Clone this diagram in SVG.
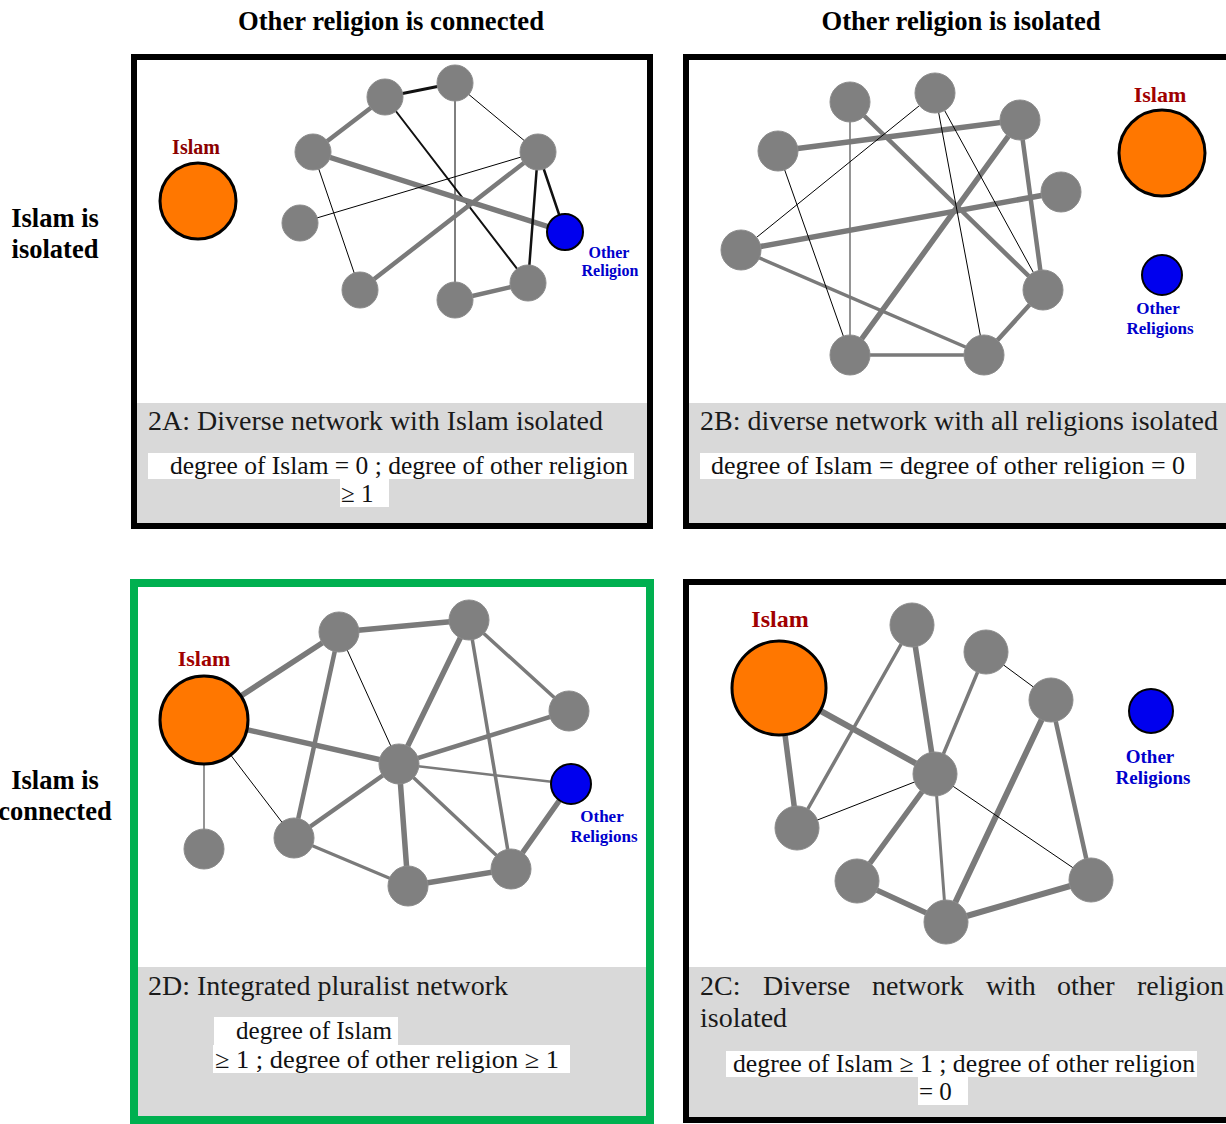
<svg xmlns="http://www.w3.org/2000/svg" width="1226" height="1124" viewBox="0 0 1226 1124">
<style>
.hdr{font-family:"Liberation Serif",serif;font-weight:bold;font-size:26.5px;fill:#000}
.cap{font-family:"Liberation Serif",serif;font-size:28px;fill:#1a1a1a}
.frm{font-family:"Liberation Serif",serif;font-size:25px;fill:#111}
.isl{font-family:"Liberation Serif",serif;font-weight:bold;fill:#A00000;text-anchor:middle}
.oth{font-family:"Liberation Serif",serif;font-weight:bold;fill:#0000CC;text-anchor:middle}
.node{fill:#808080;stroke:#8c8c8c;stroke-width:1}
.islam{fill:#FF7700;stroke:#000;stroke-width:3}
.other{fill:#0000EE;stroke:#000;stroke-width:2}
.g5{stroke:#7a7a7a;stroke-width:5.5}
.g4{stroke:#7a7a7a;stroke-width:4.5}
.g3{stroke:#7a7a7a;stroke-width:3.5}
.g1{stroke:#7a7a7a;stroke-width:1.6}
.k1{stroke:#000;stroke-width:1}
.k2{stroke:#111;stroke-width:2.5}
.box{fill:#fff}
.gray{fill:#d9d9d9}
</style>
<rect width="1226" height="1124" fill="#fff"/>

<!-- headers -->
<text class="hdr" x="391" y="30" text-anchor="middle" textLength="306" lengthAdjust="spacingAndGlyphs">Other religion is connected</text>
<text class="hdr" x="961" y="30" text-anchor="middle" textLength="279" lengthAdjust="spacingAndGlyphs">Other religion is isolated</text>
<text class="hdr" x="55" y="227" text-anchor="middle">Islam is</text>
<text class="hdr" x="55" y="258" text-anchor="middle">isolated</text>
<text class="hdr" x="55" y="789" text-anchor="middle">Islam is</text>
<text class="hdr" x="55" y="820" text-anchor="middle">connected</text>

<!-- panel frames -->
<g id="panel-2A">
<rect x="134" y="57" width="516" height="469" fill="#fff" stroke="#000" stroke-width="6"/>
<rect class="gray" x="137" y="403" width="510" height="120"/>
<text class="cap" x="148" y="430" textLength="455" lengthAdjust="spacingAndGlyphs">2A: Diverse network with Islam isolated</text>
<rect class="box" x="148" y="453" width="486" height="26"/>
<rect class="box" x="340" y="479" width="49" height="28"/>
<text class="frm" x="170" y="474" textLength="458" lengthAdjust="spacingAndGlyphs">degree of Islam = 0 ; degree of other religion</text>
<text class="frm" x="341" y="502">≥ 1</text>
</g>
<g id="panel-2B">
<rect x="686" y="57" width="560" height="469" fill="#fff" stroke="#000" stroke-width="6"/>
<rect class="gray" x="689" y="403" width="537" height="120"/>
<text class="cap" x="700" y="430" textLength="518" lengthAdjust="spacingAndGlyphs">2B: diverse network with all religions isolated</text>
<rect class="box" x="700" y="453" width="496" height="26"/>
<text class="frm" x="711" y="474" textLength="474" lengthAdjust="spacingAndGlyphs">degree of Islam = degree of other religion = 0</text>
</g>
<g id="panel-2D">
<rect x="134" y="583" width="516" height="537" fill="#fff" stroke="#00B050" stroke-width="8"/>
<rect class="gray" x="138" y="967" width="508" height="149"/>
<text class="cap" x="148" y="995" textLength="360" lengthAdjust="spacingAndGlyphs">2D: Integrated pluralist network</text>
<rect class="box" x="214" y="1017" width="184" height="28"/>
<rect class="box" x="213" y="1045" width="357" height="28"/>
<text class="frm" x="236" y="1039" textLength="156" lengthAdjust="spacingAndGlyphs">degree of Islam</text>
<text class="frm" x="215" y="1068" textLength="344" lengthAdjust="spacingAndGlyphs">≥ 1 ; degree of other religion  ≥ 1</text>
</g>
<g id="panel-2C">
<rect x="686" y="582" width="560" height="538" fill="#fff" stroke="#000" stroke-width="6"/>
<rect class="gray" x="689" y="967" width="537" height="150"/>
<text class="cap" y="995"><tspan x="700">2C:</tspan><tspan x="763">Diverse</tspan><tspan x="872">network</tspan><tspan x="986">with</tspan><tspan x="1057">other</tspan><tspan x="1137">religion</tspan></text>
<text class="cap" x="700" y="1027">isolated</text>
<rect class="box" x="726" y="1051" width="471" height="26"/>
<rect class="box" x="918" y="1077" width="50" height="28"/>
<text class="frm" x="733" y="1072" textLength="462" lengthAdjust="spacingAndGlyphs">degree of Islam  ≥ 1 ; degree of other religion</text>
<text class="frm" x="919" y="1100">= 0</text>
</g>

<!-- connectors -->
<g id="connectors" fill="none" stroke-linecap="round">
<!-- 2A -->
<line class="k2" x1="385" y1="97" x2="455" y2="83" style="stroke-width:3"/>
<line class="g4" x1="385" y1="97" x2="313" y2="152"/>
<line class="k2" x1="385" y1="97" x2="528" y2="283" style="stroke-width:2"/>
<line class="k1" x1="455" y1="83" x2="455" y2="300"/>
<line class="k1" x1="455" y1="83" x2="538" y2="152"/>
<line class="g5" x1="313" y1="152" x2="565" y2="232"/>
<line class="k1" x1="313" y1="152" x2="360" y2="290"/>
<line class="k1" x1="300" y1="223" x2="538" y2="152"/>
<line class="g4" x1="360" y1="290" x2="538" y2="152"/>
<line class="k2" x1="538" y1="152" x2="528" y2="283"/>
<line class="k2" x1="538" y1="152" x2="565" y2="232"/>
<line class="g4" x1="455" y1="300" x2="528" y2="283"/>
<!-- 2B -->
<line class="g5" x1="778" y1="151" x2="1020" y2="120"/>
<line class="g5" x1="741" y1="250" x2="1061" y2="192"/>
<line class="g4" x1="850" y1="102" x2="1043" y2="290"/>
<line class="g5" x1="1020" y1="120" x2="850" y2="355"/>
<line class="g4" x1="1020" y1="120" x2="1043" y2="290"/>
<line class="g3" x1="741" y1="250" x2="984" y2="355"/>
<line class="g3" x1="850" y1="355" x2="984" y2="355"/>
<line class="g4" x1="984" y1="355" x2="1043" y2="290"/>
<line class="g1" x1="850" y1="102" x2="850" y2="355"/>
<line class="k1" x1="778" y1="151" x2="850" y2="355"/>
<line class="k1" x1="741" y1="250" x2="935" y2="93"/>
<line class="k1" x1="935" y1="93" x2="984" y2="355"/>
<line class="k1" x1="935" y1="93" x2="1043" y2="290"/>
<!-- 2D -->
<line class="g5" x1="204" y1="720" x2="339" y2="632"/>
<line class="g5" x1="204" y1="720" x2="399" y2="764"/>
<line class="g1" x1="204" y1="720" x2="204" y2="849"/>
<line class="k1" x1="204" y1="720" x2="294" y2="838"/>
<line class="g5" x1="339" y1="632" x2="469" y2="620"/>
<line class="g4" x1="339" y1="632" x2="294" y2="838"/>
<line class="k1" x1="339" y1="632" x2="399" y2="764"/>
<line class="g5" x1="469" y1="620" x2="399" y2="764"/>
<line class="g3" x1="469" y1="620" x2="569" y2="711"/>
<line class="g3" x1="469" y1="620" x2="511" y2="869"/>
<line class="g4" x1="569" y1="711" x2="399" y2="764"/>
<line class="g1" x1="399" y1="764" x2="571" y2="784" style="stroke-width:2.5"/>
<line class="g4" x1="399" y1="764" x2="294" y2="838"/>
<line class="g5" x1="399" y1="764" x2="408" y2="886"/>
<line class="g3" x1="399" y1="764" x2="511" y2="869"/>
<line class="g3" x1="294" y1="838" x2="408" y2="886" style="stroke-width:3"/>
<line class="g5" x1="408" y1="886" x2="511" y2="869"/>
<line class="g5" x1="511" y1="869" x2="571" y2="784"/>
<!-- 2C -->
<line class="g5" x1="779" y1="688" x2="797" y2="828"/>
<line class="g5" x1="779" y1="688" x2="935" y2="774" style="stroke-width:6"/>
<line class="g3" x1="912" y1="625" x2="797" y2="828"/>
<line class="g5" x1="912" y1="625" x2="935" y2="774"/>
<line class="g3" x1="986" y1="652" x2="935" y2="774"/>
<line class="k1" x1="986" y1="652" x2="1051" y2="700"/>
<line class="g5" x1="1051" y1="700" x2="946" y2="922" style="stroke-width:6"/>
<line class="g4" x1="1051" y1="700" x2="1091" y2="880"/>
<line class="k1" x1="935" y1="774" x2="797" y2="828"/>
<line class="g5" x1="935" y1="774" x2="857" y2="881"/>
<line class="g3" x1="935" y1="774" x2="946" y2="922" style="stroke-width:3"/>
<line class="k1" x1="935" y1="774" x2="1091" y2="880"/>
<line class="g5" x1="857" y1="881" x2="946" y2="922"/>
<line class="g5" x1="946" y1="922" x2="1091" y2="880" style="stroke-width:6"/>
</g>

<!-- 2A nodes -->
<g id="a-islam"><circle class="islam" cx="198" cy="201" r="38"/><text class="isl" x="196" y="154" font-size="20" style="fill:#8B0000">Islam</text></g>
<g id="a-other"><circle class="other" cx="565" cy="232" r="18"/><text class="oth" x="609" y="258" font-size="16">Other</text><text class="oth" x="610" y="276" font-size="16">Religion</text></g>
<g id="a-n1"><circle class="node" cx="385" cy="97" r="18"/></g>
<g id="a-n2"><circle class="node" cx="455" cy="83" r="18"/></g>
<g id="a-n3"><circle class="node" cx="313" cy="152" r="18"/></g>
<g id="a-n4"><circle class="node" cx="538" cy="152" r="18"/></g>
<g id="a-n5"><circle class="node" cx="300" cy="223" r="18"/></g>
<g id="a-n6"><circle class="node" cx="360" cy="290" r="18"/></g>
<g id="a-n7"><circle class="node" cx="455" cy="300" r="18"/></g>
<g id="a-n8"><circle class="node" cx="528" cy="283" r="18"/></g>

<!-- 2B nodes -->
<g id="b-islam"><circle class="islam" cx="1162" cy="153" r="43"/><text class="isl" x="1160" y="102" font-size="22">Islam</text></g>
<g id="b-other"><circle class="other" cx="1162" cy="275" r="20"/><text class="oth" x="1158" y="314" font-size="17">Other</text><text class="oth" x="1160" y="334" font-size="17">Religions</text></g>
<g id="b-n1"><circle class="node" cx="850" cy="102" r="20"/></g>
<g id="b-n2"><circle class="node" cx="935" cy="93" r="20"/></g>
<g id="b-n3"><circle class="node" cx="1020" cy="120" r="20"/></g>
<g id="b-n4"><circle class="node" cx="778" cy="151" r="20"/></g>
<g id="b-n5"><circle class="node" cx="1061" cy="192" r="20"/></g>
<g id="b-n6"><circle class="node" cx="741" cy="250" r="20"/></g>
<g id="b-n7"><circle class="node" cx="1043" cy="290" r="20"/></g>
<g id="b-n8"><circle class="node" cx="850" cy="355" r="20"/></g>
<g id="b-n9"><circle class="node" cx="984" cy="355" r="20"/></g>

<!-- 2D nodes -->
<g id="d-islam"><circle class="islam" cx="204" cy="720" r="44"/><text class="isl" x="204" y="666" font-size="22">Islam</text></g>
<g id="d-other"><circle class="other" cx="571" cy="784" r="20"/><text class="oth" x="602" y="822" font-size="17">Other</text><text class="oth" x="604" y="842" font-size="17">Religions</text></g>
<g id="d-n1"><circle class="node" cx="339" cy="632" r="20"/></g>
<g id="d-n2"><circle class="node" cx="469" cy="620" r="20"/></g>
<g id="d-n3"><circle class="node" cx="569" cy="711" r="20"/></g>
<g id="d-n4"><circle class="node" cx="399" cy="764" r="20"/></g>
<g id="d-n5"><circle class="node" cx="294" cy="838" r="20"/></g>
<g id="d-n6"><circle class="node" cx="204" cy="849" r="20"/></g>
<g id="d-n7"><circle class="node" cx="408" cy="886" r="20"/></g>
<g id="d-n8"><circle class="node" cx="511" cy="869" r="20"/></g>

<!-- 2C nodes -->
<g id="c-islam"><circle class="islam" cx="779" cy="688" r="47"/><text class="isl" x="780" y="627" font-size="24">Islam</text></g>
<g id="c-other"><circle class="other" cx="1151" cy="711" r="22"/><text class="oth" x="1150" y="763" font-size="19">Other</text><text class="oth" x="1153" y="784" font-size="19">Religions</text></g>
<g id="c-n1"><circle class="node" cx="912" cy="625" r="22"/></g>
<g id="c-n2"><circle class="node" cx="986" cy="652" r="22"/></g>
<g id="c-n3"><circle class="node" cx="1051" cy="700" r="22"/></g>
<g id="c-n4"><circle class="node" cx="935" cy="774" r="22"/></g>
<g id="c-n5"><circle class="node" cx="797" cy="828" r="22"/></g>
<g id="c-n6"><circle class="node" cx="857" cy="881" r="22"/></g>
<g id="c-n7"><circle class="node" cx="946" cy="922" r="22"/></g>
<g id="c-n8"><circle class="node" cx="1091" cy="880" r="22"/></g>
</svg>
